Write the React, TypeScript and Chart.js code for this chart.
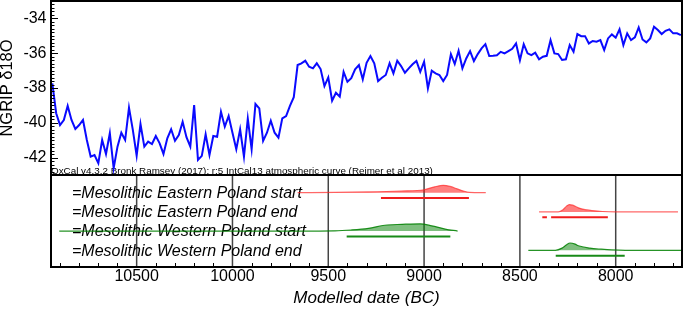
import React, { useEffect, useRef } from 'react';
import { Chart, registerables } from 'chart.js';

Chart.register(...registerables);

const FONT = '"Liberation Sans", Arial, Helvetica, sans-serif';

// NGRIP delta-18O record (years BC)
const YEARS = [
  10940, 10920, 10900, 10880, 10860, 10840, 10820, 10800, 10780, 10760,
  10740, 10720, 10700, 10680, 10660, 10640, 10620, 10600, 10580, 10560,
  10540, 10520, 10500, 10480, 10460, 10440, 10420, 10400, 10380, 10360,
  10340, 10320, 10300, 10280, 10260, 10240, 10220, 10200, 10180, 10160,
  10140, 10120, 10100, 10080, 10060, 10040, 10020, 10000, 9980, 9960,
  9940, 9920, 9900, 9880, 9860, 9840, 9820, 9800, 9780, 9760,
  9740, 9720, 9700, 9680, 9660, 9640, 9620, 9600, 9580, 9560,
  9540, 9520, 9500, 9480, 9460, 9440, 9420, 9400, 9380, 9360,
  9340, 9320, 9300, 9280, 9260, 9240, 9220, 9200, 9180, 9160,
  9140, 9120, 9100, 9080, 9060, 9040, 9020, 9000, 8980, 8960,
  8940, 8920, 8900, 8880, 8860, 8840, 8820, 8800, 8780, 8760,
  8740, 8720, 8700, 8680, 8660, 8640, 8620, 8600, 8580, 8560,
  8540, 8520, 8500, 8480, 8460, 8440, 8420, 8400, 8380, 8360,
  8340, 8320, 8300, 8280, 8260, 8240, 8220, 8200, 8180, 8160,
  8140, 8120, 8100, 8080, 8060, 8040, 8020, 8000, 7980, 7960,
  7940, 7920, 7900, 7880, 7860, 7840, 7820, 7800, 7780, 7760,
  7740, 7720, 7700, 7680, 7660,
];

const D18O = [
  -37.73, -39.45, -40.13, -39.84, -39.03, -39.84, -40.35, -40.13, -39.84, -40.99,
  -41.94, -41.85, -42.32, -40.99, -41.79, -40.60, -42.61, -41.37, -40.57, -40.99,
  -39.13, -40.41, -41.89, -40.07, -41.37, -41.08, -41.22, -40.76, -41.18, -41.79,
  -40.89, -40.37, -41.03, -40.70, -39.94, -40.83, -41.37, -38.98, -42.13, -41.90,
  -40.66, -41.85, -40.76, -40.80, -39.36, -40.22, -39.61, -40.57, -41.52, -40.37,
  -41.94, -39.76, -41.52, -38.92, -39.17, -41.04, -40.57, -39.88, -40.57, -40.85,
  -39.74, -39.61, -39.03, -38.53, -36.68, -36.58, -36.43, -36.78, -36.87, -36.58,
  -36.91, -37.89, -37.39, -38.73, -38.27, -38.50, -37.07, -37.64, -37.44, -36.93,
  -36.68, -37.50, -36.55, -36.16, -36.58, -37.60, -37.41, -37.25, -36.58, -37.16,
  -36.43, -36.74, -37.12, -36.87, -36.64, -36.45, -37.07, -36.49, -38.02, -37.01,
  -37.16, -37.25, -37.60, -37.25, -36.05, -36.62, -35.86, -36.87, -36.30, -35.88,
  -36.45, -36.05, -35.72, -35.48, -36.16, -36.15, -36.12, -35.92, -36.01, -35.88,
  -35.75, -35.44, -36.41, -35.48, -36.01, -36.11, -35.97, -36.35, -36.20, -36.15,
  -35.25, -36.01, -36.05, -36.39, -36.35, -35.53, -35.92, -34.90, -35.02, -35.02,
  -35.44, -35.30, -35.34, -35.25, -35.82, -35.15, -34.92, -35.11, -34.63, -35.53,
  -34.86, -35.25, -35.09, -34.52, -35.21, -35.38, -35.15, -34.48, -34.67, -34.90,
  -34.71, -34.63, -34.86, -34.86, -34.96,
];

const X_TICKS = [10500, 10000, 9500, 9000, 8500, 8000];
const Y_TICKS = [-42, -40, -38, -36, -34];

const ROW_LABELS = [
  '=Mesolithic Eastern Poland start',
  '=Mesolithic Eastern Poland end',
  '=Mesolithic Western Poland start',
  '=Mesolithic Western Poland end',
];

// Modelled probability distributions (years BC, relative probability)
const E_START_YEARS = [9660, 9460, 9290, 9120, 9000, 8945, 8900, 8865, 8830, 8795, 8765, 8678];
const E_START_PROB = [0, 0.03, 0.1, 0.23, 0.4, 0.8, 1, 0.86, 0.55, 0.22, 0.04, 0];
const E_START_RANGE = [[9225, 8766]];

const E_END_YEARS = [8400, 8300, 8275, 8258, 8242, 8225, 8195, 8160, 8125, 8070, 8000, 7675];
const E_END_PROB = [0, 0, 0.3, 0.75, 1, 0.92, 0.55, 0.3, 0.18, 0.05, 0, 0];
const E_END_RANGE = [[8383, 8359], [8337, 8041]];

const W_START_YEARS = [10904, 9650, 9465, 9380, 9290, 9205, 9115, 9020, 8960, 8890, 8825];
const W_START_PROB = [0, 0, 0.03, 0.15, 0.38, 0.8, 0.92, 1, 0.72, 0.28, 0];
const W_START_RANGE = [[9404, 8863]];

const W_END_YEARS = [8456, 8315, 8280, 8258, 8238, 8212, 8195, 8135, 8075, 8020, 7950, 7600];
const W_END_PROB = [0, 0, 0.3, 0.72, 1, 0.85, 0.62, 0.3, 0.15, 0.05, 0, 0];
const W_END_RANGE = [[8313, 7953]];

const CREDIT = 'OxCal v4.3.2 Bronk Ramsey (2017); r:5 IntCal13 atmospheric curve (Reimer et al 2013)';

const RED = { line: 'rgba(255,40,40,0.7)', fill: 'rgba(255,0,0,0.5)', bar: '#f01c1c' };
const GREEN = { line: 'rgba(0,128,0,0.85)', fill: 'rgba(0,128,0,0.5)', bar: '#178a17' };

const PEAK = 0.38;
const BAR_OFFSET = 0.28;

const ROWS = [
  { base: 4, years: E_START_YEARS, prob: E_START_PROB, range: E_START_RANGE, col: RED },
  { base: 3, years: E_END_YEARS, prob: E_END_PROB, range: E_END_RANGE, col: RED },
  { base: 2, years: W_START_YEARS, prob: W_START_PROB, range: W_START_RANGE, col: GREEN },
  { base: 1, years: W_END_YEARS, prob: W_END_PROB, range: W_END_RANGE, col: GREEN },
];

const panelPlugin = {
  id: 'panels',
  beforeDatasetsDraw(chart: any) {
    const { ctx, chartArea, scales } = chart;
    const x = scales.x;
    const y = scales.y;
    const y2 = scales.y2;
    ctx.save();
    // vertical grid lines in lower panel
    ctx.strokeStyle = '#444';
    ctx.lineWidth = 1.5;
    X_TICKS.forEach((v) => {
      const px = x.getPixelForValue(v);
      ctx.beginPath();
      ctx.moveTo(px, y2.top);
      ctx.lineTo(px, y2.bottom);
      ctx.stroke();
    });
    // row labels
    ctx.fillStyle = '#000';
    ctx.font = `italic 16px ${FONT}`;
    ctx.textAlign = 'left';
    ctx.textBaseline = 'alphabetic';
    ROW_LABELS.forEach((label, i) => {
      ctx.fillText(label, chartArea.left + 21, y2.getPixelForValue(ROWS[i].base - BAR_OFFSET));
    });
    // credit line
    ctx.font = `9.85px ${FONT}`;
    ctx.fillText(CREDIT, chartArea.left, y.bottom - 1);
    ctx.restore();
  },
  afterDatasetsDraw(chart: any) {
    const { ctx, chartArea, scales } = chart;
    const x = scales.x;
    const y = scales.y;
    const y2 = scales.y2;
    const L = chartArea.left;
    const R = chartArea.right;
    ctx.save();
    ctx.strokeStyle = '#000';
    ctx.lineWidth = 1;
    // y ticks (minor every 0.2, major every 2)
    for (let i = 0; i <= 50; i++) {
      const v = -43 + i * 0.2;
      const py = Math.round(y.getPixelForValue(v)) + 0.5;
      const major = Y_TICKS.some((t) => Math.abs(t - v) < 1e-6);
      ctx.beginPath();
      ctx.moveTo(L, py);
      ctx.lineTo(L + (major ? 7 : 3.5), py);
      ctx.stroke();
    }
    // x minor ticks every 100 years
    for (let yr = 7700; yr <= 10900; yr += 100) {
      if (yr % 500 === 0) continue;
      const px = Math.round(x.getPixelForValue(yr)) + 0.5;
      ctx.beginPath();
      ctx.moveTo(px, y2.bottom);
      ctx.lineTo(px, y2.bottom - 4);
      ctx.stroke();
    }
    // frames
    ctx.lineWidth = 2;
    ctx.strokeRect(L, y.top, R - L, y.bottom - y.top);
    ctx.strokeRect(L, y2.top, R - L, y2.bottom - y2.top);
    ctx.restore();
  },
};

function buildDatasets() {
  const ds: any[] = [];
  ds.push({
    data: YEARS.map((yr, i) => ({ x: yr, y: D18O[i] })),
    yAxisID: 'y',
    borderColor: '#0a0aff',
    borderWidth: 2,
    pointRadius: 0,
    tension: 0,
    fill: false,
  });
  ROWS.forEach((r) => {
    ds.push({
      data: r.years.map((yr, i) => ({ x: yr, y: r.base + r.prob[i] * PEAK })),
      yAxisID: 'y2',
      borderColor: r.col.line,
      backgroundColor: r.col.fill,
      borderWidth: 1.2,
      pointRadius: 0,
      cubicInterpolationMode: 'monotone',
      fill: { value: r.base },
    });
    r.range.forEach((seg) => {
      ds.push({
        data: [
          { x: seg[0], y: r.base - BAR_OFFSET },
          { x: seg[1], y: r.base - BAR_OFFSET },
        ],
        yAxisID: 'y2',
        borderColor: r.col.bar,
        borderWidth: 2,
        pointRadius: 0,
        fill: false,
      });
    });
  });
  return ds;
}

const noPad = (s: any) => {
  s.paddingTop = 0;
  s.paddingBottom = 0;
  s.paddingLeft = 0;
  s.paddingRight = 0;
};

export default function App() {
  const ref = useRef<HTMLCanvasElement | null>(null);
  useEffect(() => {
    if (!ref.current) return;
    const chart = new Chart(ref.current, {
      type: 'line',
      data: { datasets: buildDatasets() },
      options: {
        animation: false,
        responsive: false,
        devicePixelRatio: 1,
        layout: { padding: { left: 0, right: 3, top: 1, bottom: 0 } },
        plugins: { legend: { display: false }, tooltip: { enabled: false } },
        scales: {
          x: {
            type: 'linear',
            position: 'bottom',
            reverse: true,
            min: 7654,
            max: 10947,
            afterFit: (s: any) => { s.height = 47; noPad(s); },
            afterBuildTicks: (s: any) => { s.ticks = X_TICKS.map((v) => ({ value: v })); },
            grid: { display: false, drawTicks: false },
            border: { display: false },
            ticks: {
              callback: (v: any) => String(v),
              color: '#000',
              font: { family: FONT, size: 16, lineHeight: 1.15 },
              padding: 0,
              maxRotation: 0,
              autoSkip: false,
            },
            title: {
              display: true,
              text: 'Modelled date (BC)',
              color: '#000',
              font: { family: FONT, size: 17, style: 'italic' },
              padding: { top: 0, bottom: 6 },
            },
          },
          y2: {
            type: 'linear',
            position: 'left',
            stack: 'panels',
            stackWeight: 92,
            min: 0.13,
            max: 4.92,
            afterFit: (s: any) => { s.width = 51; noPad(s); },
            grid: { display: false, drawTicks: false },
            border: { display: false },
            ticks: { display: false },
          },
          y: {
            type: 'linear',
            position: 'left',
            stack: 'panels',
            stackWeight: 174,
            min: -43,
            max: -33,
            afterFit: (s: any) => { s.width = 51; noPad(s); },
            afterBuildTicks: (s: any) => { s.ticks = Y_TICKS.map((v) => ({ value: v })); },
            grid: { display: false, drawTicks: false },
            border: { display: false },
            ticks: {
              callback: (v: any) => String(v),
              color: '#000',
              font: { family: FONT, size: 16 },
              padding: 4.5,
            },
            title: {
              display: true,
              text: 'NGRIP δ18O',
              color: '#000',
              font: { family: FONT, size: 16.5, lineHeight: 0.9 },
              padding: { top: 0, bottom: 0 },
            },
          },
        },
      },
      plugins: [panelPlugin],
    });
    return () => chart.destroy();
  }, []);
  return (
    <div style={{ position: 'fixed', left: 0, top: 0, width: 685, height: 314, background: '#fff' }}>
      <canvas ref={ref} width={685} height={314} style={{ display: 'block', width: 685, height: 314 }} />
    </div>
  );
}
